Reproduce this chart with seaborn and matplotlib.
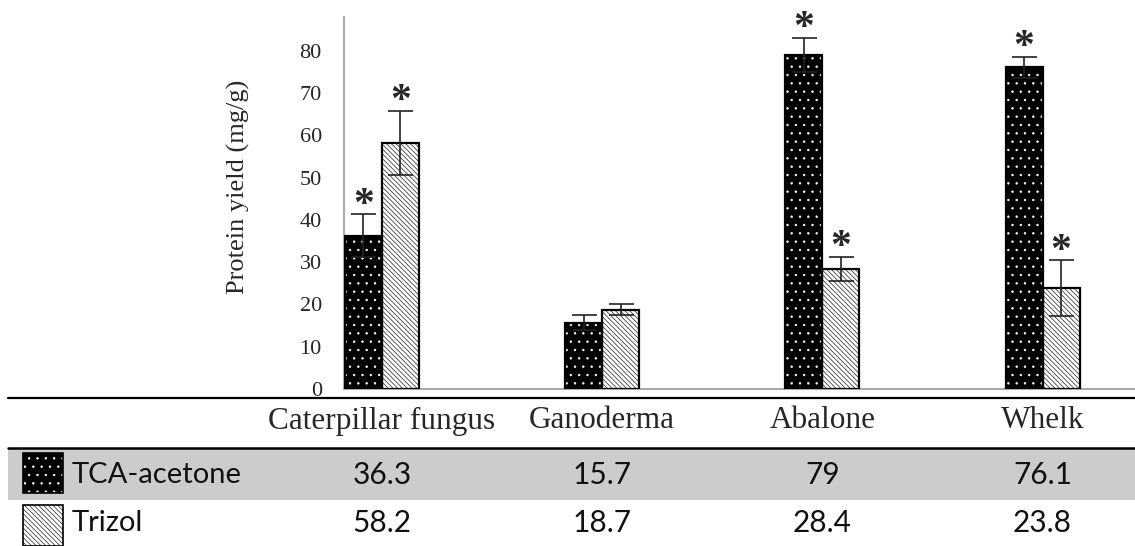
import numpy as np
import pandas as pd
import matplotlib
matplotlib.use("Agg")
import matplotlib.pyplot as plt
import matplotlib.transforms as mtransforms
from matplotlib.patches import Rectangle
from matplotlib.lines import Line2D
import seaborn as sns

# data
categories = ["Caterpillar fungus", "Ganoderma", "Abalone", "Whelk"]
methods = ["TCA-acetone", "Trizol"]
tca_vals = [36.3, 15.7, 79, 76.1]
trizol_vals = [58.2, 18.7, 28.4, 23.8]
tca_err = [5.0, 1.8, 4.1, 2.5]
trizol_err = [7.6, 1.3, 2.9, 6.6]
tca_star = [True, False, True, True]
trizol_star = [True, False, True, True]
tca_labels = ["36.3", "15.7", "79", "76.1"]
trizol_labels = ["58.2", "18.7", "28.4", "23.8"]
yticks = [0, 10, 20, 30, 40, 50, 60, 70, 80]

df = pd.DataFrame({
    "category": categories * 2,
    "method": [methods[0]] * 4 + [methods[1]] * 4,
    "value": tca_vals + trizol_vals,
})

sns.set_style("white")
plt.rcParams["hatch.linewidth"] = 0.5

W, H = 1135, 546
fig = plt.figure(figsize=(W / 100, H / 100), dpi=100)
ax = fig.add_axes([344 / W, 1 - 389 / H, 1 - 344 / W, (389 - 17) / H])

sns.barplot(data=df, x="category", y="value", hue="method", order=categories,
            hue_order=methods, width=0.336, errorbar=None, legend=False,
            palette=["black", "white"], ax=ax)

# style the bars: dotted black / hatched white
styles = {0: dict(face="black", hatch="..", hcol="white"),
          1: dict(face="white", hatch="\\\\\\\\\\\\\\", hcol="#222222")}
bars = list(ax.patches)
for k, p in enumerate(bars):
    s = styles[k // 4]
    p.set_facecolor(s["face"])
    p.set_edgecolor(s["hcol"])
    p.set_hatch(s["hatch"])
    p.set_linewidth(0)
    ax.add_patch(Rectangle(p.get_xy(), p.get_width(), p.get_height(), fill=False,
                           edgecolor="black", linewidth=1.6, zorder=3))

errs = tca_err + trizol_err
stars = tca_star + trizol_star
for k, p in enumerate(bars):
    xc = p.get_x() + p.get_width() / 2
    top = p.get_height()
    ax.errorbar(xc, top, yerr=errs[k], fmt="none", ecolor="#222222",
                elinewidth=1.2, capsize=9, capthick=1.2, zorder=4)
    if stars[k]:
        ax.text(xc, top + errs[k] - 2.4, "*", ha="center", va="bottom",
                fontsize=30, fontfamily="Liberation Serif", fontweight="bold")

ax.set_xlim(-0.172, 3.42)
ax.set_ylim(0, 88)
ax.set_yticks(yticks)
ax.set_xticks([])
ax.set_xlabel("")
ax.set_ylabel("Protein yield (mg/g)", fontsize=19, fontfamily="Liberation Serif")
ax.yaxis.set_label_coords(-0.119, 0.543)
ax.tick_params(axis="y", length=0, pad=16, labelsize=16)
for t in ax.get_yticklabels():
    t.set_fontfamily("Liberation Serif")
for side in ["top", "right"]:
    ax.spines[side].set_visible(False)
for side in ["left", "bottom"]:
    ax.spines[side].set_color("#aaaaaa")
    ax.spines[side].set_linewidth(1.5)

# the data table under the chart
def fy(py):
    return 1 - py / H

tr = mtransforms.blended_transform_factory(ax.transData, fig.transFigure)
fig.add_artist(Rectangle((8 / W, fy(500)), 1 - 8 / W, 52 / H, facecolor="#cccccc",
                         edgecolor="none", transform=fig.transFigure, zorder=0))
fig.add_artist(Line2D([8 / W, 1], [fy(398), fy(398)], color="black", lw=1.6,
                      transform=fig.transFigure))
fig.add_artist(Line2D([8 / W, 1], [fy(448), fy(448)], color="black", lw=1.8,
                      transform=fig.transFigure))

for i, cat in enumerate(categories):
    fig.text(i, fy(421), cat, transform=tr, ha="center", va="center",
             fontsize=22.5, fontfamily="Liberation Serif")
    fig.text(i, fy(475), tca_labels[i], transform=tr, ha="center", va="center",
             fontsize=21.5, fontfamily="Lato", color="#111111")
    fig.text(i, fy(523), trizol_labels[i], transform=tr, ha="center", va="center",
             fontsize=21.5, fontfamily="Lato", color="#111111")

# legend swatches in the row headers
sw = [(fy(493), 40, methods[0], 0, fy(475)), (fy(546), 41, methods[1], 1, fy(523))]
for y0, hp, name, k, ty in sw:
    s = styles[k]
    fig.add_artist(Rectangle((23 / W, y0), 40 / W, hp / H, facecolor=s["face"],
                             edgecolor=s["hcol"], hatch=s["hatch"], linewidth=0,
                             transform=fig.transFigure))
    fig.add_artist(Rectangle((23 / W, y0), 40 / W, hp / H, fill=False,
                             edgecolor="black", linewidth=1.2,
                             transform=fig.transFigure))
    fig.text(72 / W, ty, name, ha="left", va="center", fontsize=21,
             fontfamily="Lato", color="#111111")

fig.savefig("out.png", dpi=100)
